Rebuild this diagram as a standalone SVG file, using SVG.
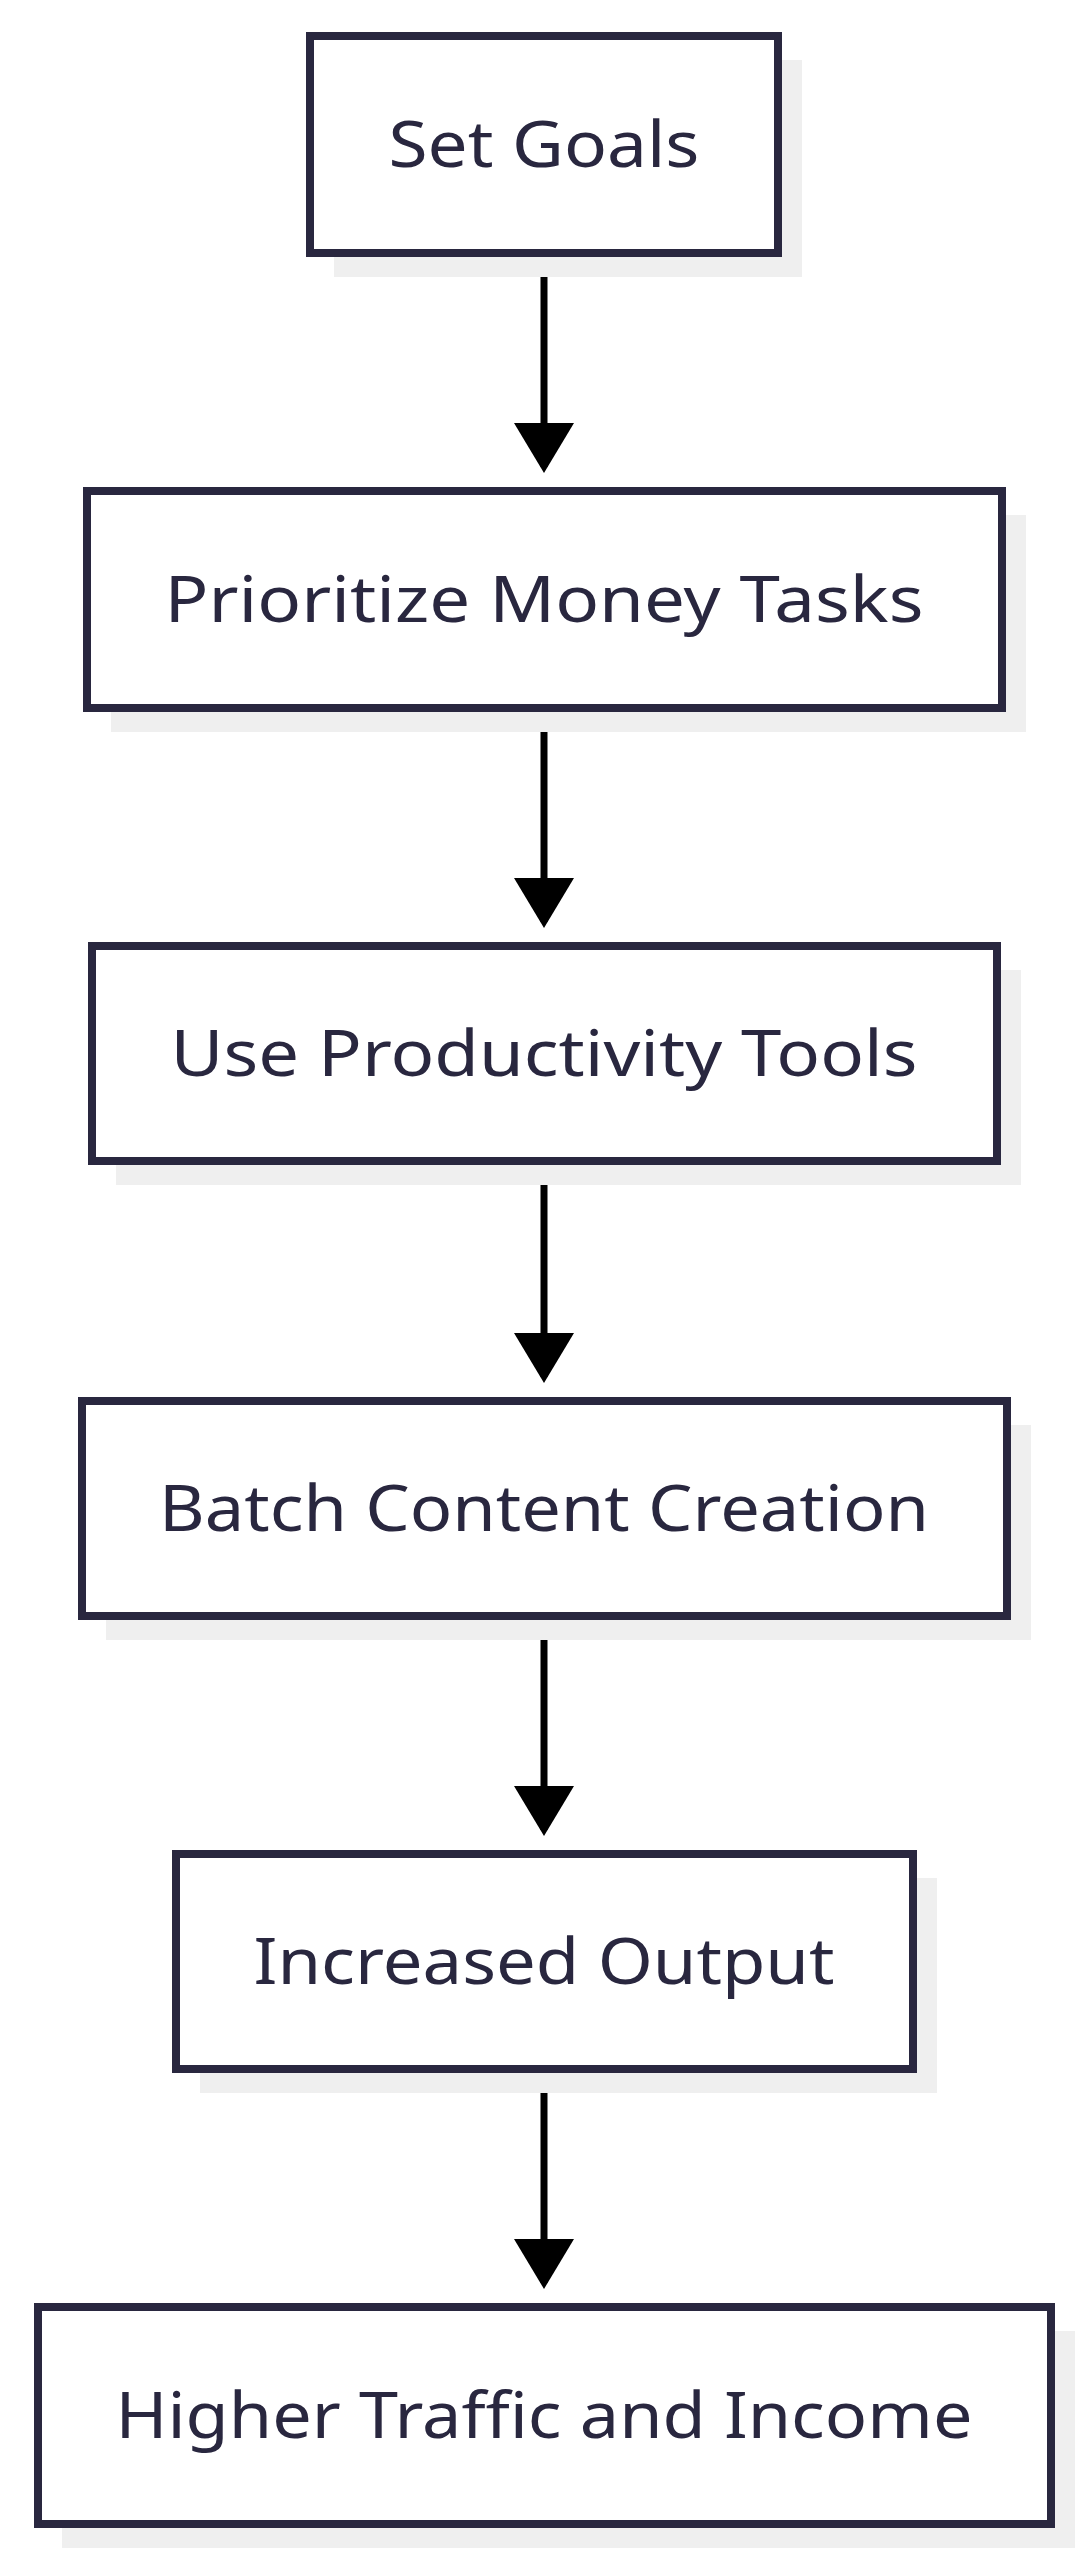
<svg xmlns="http://www.w3.org/2000/svg" width="1089" height="2560" viewBox="0 0 1089 2560">
<style>
.sh{fill:#efefef}
.bx{fill:#fff;stroke:#29273f;stroke-width:8}
.t{font-family:"Noto Sans","DejaVu Sans Condensed",sans-serif;font-size:64px;fill:#29273f;text-anchor:middle}
.e{stroke:#000;stroke-width:7;fill:none}
</style>
<defs><marker id="a" markerUnits="userSpaceOnUse" markerWidth="50" markerHeight="60" refX="44" refY="30" orient="auto" viewBox="0 0 50 60"><path d="M0,0L50,30L0,60Z" fill="#000"/></marker></defs>
<rect width="1089" height="2560" fill="#fff"/>
<g id="connectors">
<path class="e" d="M544,253V467" marker-end="url(#a)"/>
<path class="e" d="M544,708V922" marker-end="url(#a)"/>
<path class="e" d="M544,1161V1377" marker-end="url(#a)"/>
<path class="e" d="M544,1616V1830" marker-end="url(#a)"/>
<path class="e" d="M544,2069V2283" marker-end="url(#a)"/>
</g>
<g id="n1"><rect class="sh" x="334" y="60" width="468" height="217"/><rect class="bx" x="310" y="36" width="468" height="217"/><text class="t" x="544" y="167" textLength="311" lengthAdjust="spacingAndGlyphs">Set Goals</text></g>
<g id="n2"><rect class="sh" x="111" y="515" width="915" height="217"/><rect class="bx" x="87" y="491" width="915" height="217"/><text class="t" x="544" y="622" textLength="759" lengthAdjust="spacingAndGlyphs">Prioritize Money Tasks</text></g>
<g id="n3"><rect class="sh" x="116" y="970" width="905" height="215"/><rect class="bx" x="92" y="946" width="905" height="215"/><text class="t" x="544" y="1076" textLength="747" lengthAdjust="spacingAndGlyphs">Use Productivity Tools</text></g>
<g id="n4"><rect class="sh" x="106" y="1425" width="925" height="215"/><rect class="bx" x="82" y="1401" width="925" height="215"/><text class="t" x="544" y="1531" textLength="770" lengthAdjust="spacingAndGlyphs">Batch Content Creation</text></g>
<g id="n5"><rect class="sh" x="200" y="1878" width="737" height="215"/><rect class="bx" x="176" y="1854" width="737" height="215"/><text class="t" x="544" y="1984" textLength="581" lengthAdjust="spacingAndGlyphs">Increased Output</text></g>
<g id="n6"><rect class="sh" x="62" y="2331" width="1013" height="217"/><rect class="bx" x="38" y="2307" width="1013" height="217"/><text class="t" x="544" y="2438" textLength="857" lengthAdjust="spacingAndGlyphs">Higher Traffic and Income</text></g>
</svg>
